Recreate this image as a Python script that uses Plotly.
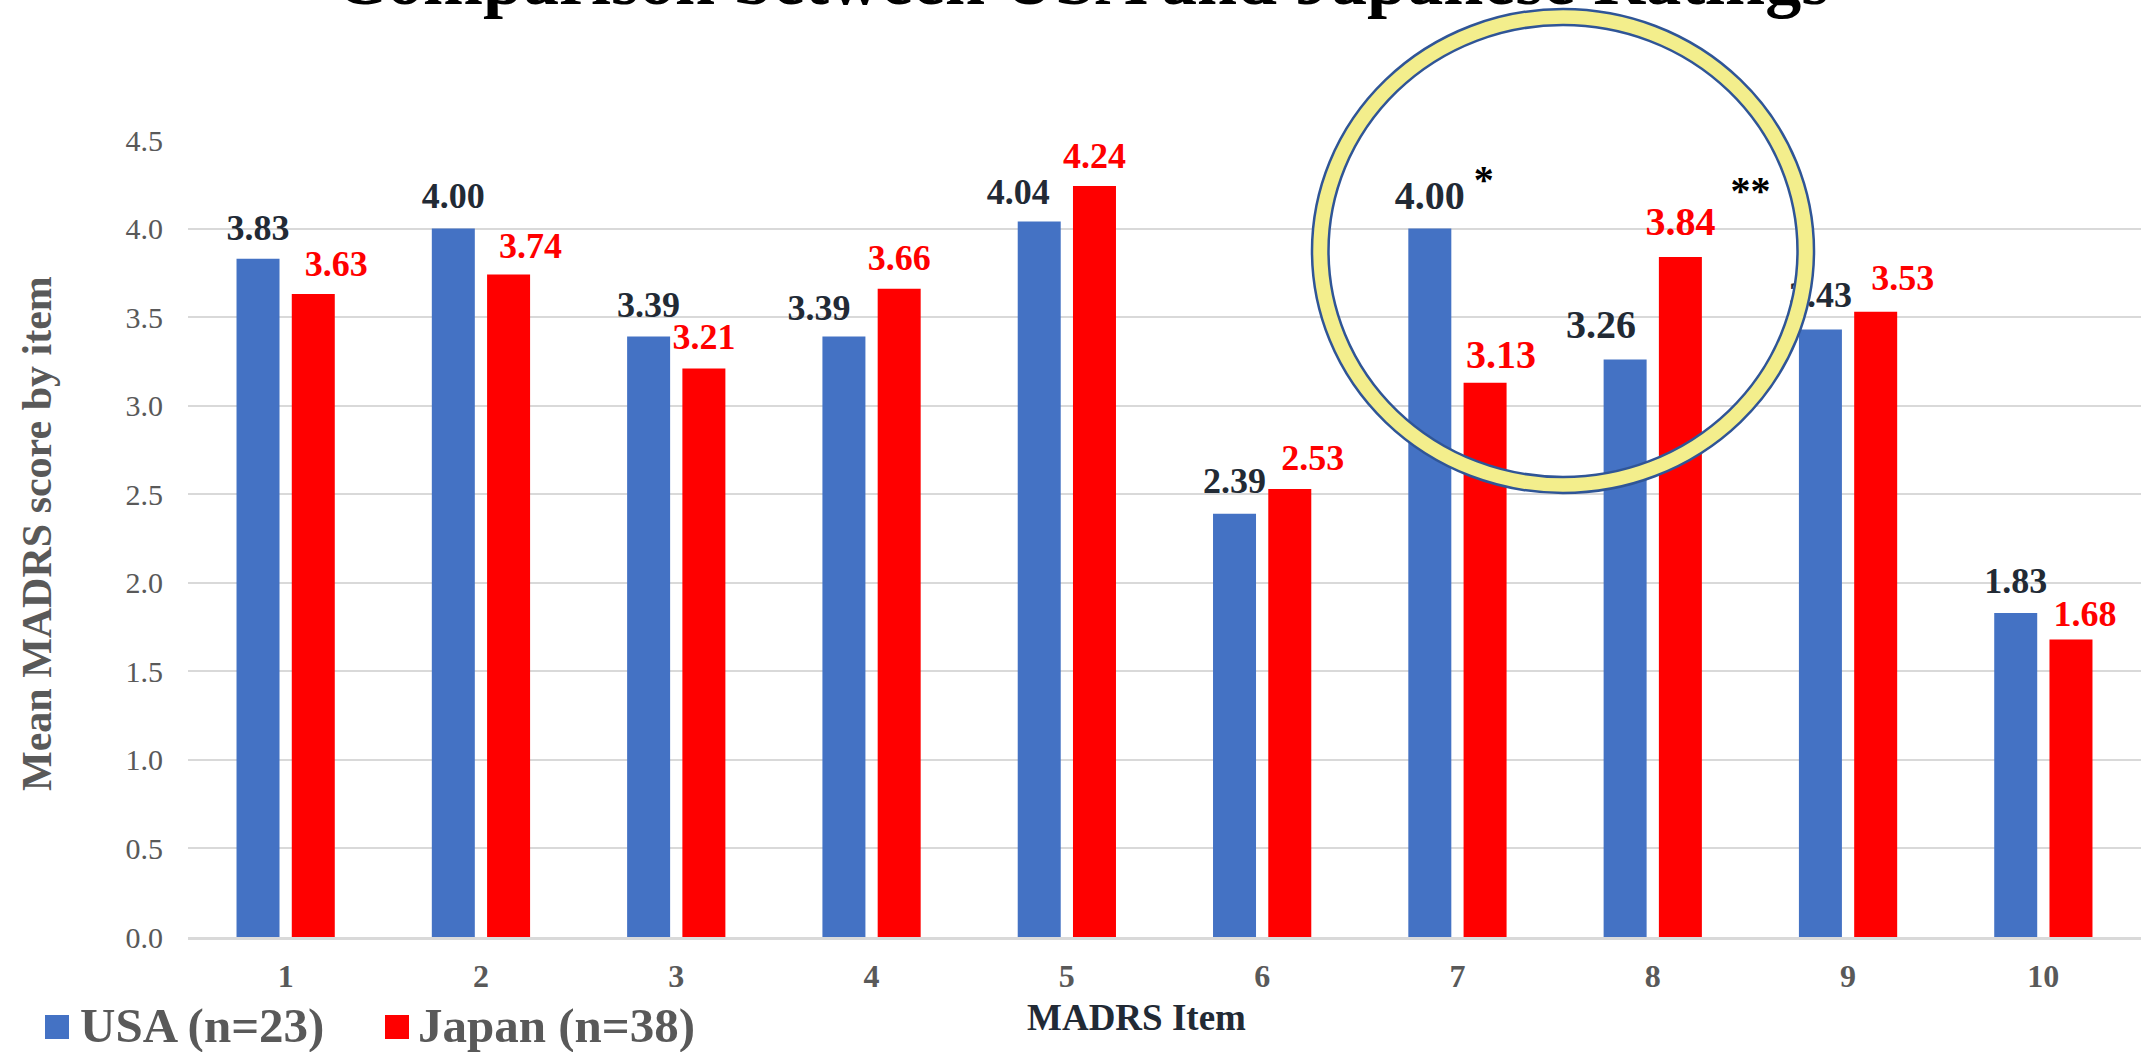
import plotly.graph_objects as go

# ---- data -------------------------------------------------------------
items = ["1", "2", "3", "4", "5", "6", "7", "8", "9", "10"]
usa = [3.83, 4.00, 3.39, 3.39, 4.04, 2.39, 4.00, 3.26, 3.43, 1.83]
japan = [3.63, 3.74, 3.21, 3.66, 4.24, 2.53, 3.13, 3.84, 3.53, 1.68]
y_ticks = [0.0, 0.5, 1.0, 1.5, 2.0, 2.5, 3.0, 3.5, 4.0, 4.5]

series_names = ["USA (n=23)", "Japan (n=38)"]
title_text = "Comparison between USA and Japanese Ratings"
y_title = "Mean MADRS score by item"
x_title = "MADRS Item"

# ---- label styling (pixel nudges / lifts / font sizes) ----------------
usa_label_shift = [0, 0, 0, -25, -21, 0, 0, -24, 0, 0]
japan_label_shift = [23, 22, 0, 0, 0, 23, 16, 0, 27, 14]
usa_label_lift = [19, 21, 20, 17, 17, 21, 20, 22, 23, 20]
japan_label_lift = [18, 17, 19, 19, 18, 19, 15, 22, 22, 13]
usa_label_size = [36, 36, 36, 36, 36, 36, 40, 40, 36, 36]
japan_label_size = [36, 36, 36, 36, 36, 36, 40, 40, 36, 36]

# ---- layout constants -------------------------------------------------
W, H = 2141, 1052
ML, MR, MT, MB = 188, 0, 140, 115
PW, PH = W - ML - MR, H - MT - MB
YMAX = 4.5
BARGAP, GROUPGAP = 0.434, 0.222
SERIF = "Times New Roman, Liberation Serif, serif"
BLUE, RED = "#4472C4", "#FF0000"
NAVY, GREY = "#222A35", "#595959"

slot = (1 - BARGAP) / 2          # width of one bar slot in category units
px_x = PW / len(items)           # pixels per category unit
px_y = PH / YMAX                 # pixels per score unit
pos = list(range(1, len(items) + 1))


def paper_x(px):
    return (px - ML) / PW


def paper_y(py):
    return (MT + PH - py) / PH


def label_points(values, side, shifts, lifts, sizes):
    xs, ys = [], []
    for p, v, s, l, f in zip(pos, values, shifts, lifts, sizes):
        xs.append(p + side * slot / 2 + s / px_x)
        # text is centred 0.25em above its baseline
        ys.append(v + (l + 0.25 * f) / px_y)
    return xs, ys


fig = go.Figure()

fig.add_trace(go.Bar(x=pos, y=usa, name=series_names[0],
                     marker=dict(color=BLUE, line=dict(width=0)),
                     hoverinfo="skip"))
fig.add_trace(go.Bar(x=pos, y=japan, name=series_names[1],
                     marker=dict(color=RED, line=dict(width=0)),
                     hoverinfo="skip"))

ux, uy = label_points(usa, -1, usa_label_shift, usa_label_lift, usa_label_size)
fig.add_trace(go.Scatter(
    x=ux, y=uy, mode="text", text=[f"{v:.2f}" for v in usa],
    textposition="middle center", hoverinfo="skip",
    textfont=dict(family=SERIF, size=usa_label_size, color=NAVY, weight="bold")))

jx, jy = label_points(japan, 1, japan_label_shift, japan_label_lift, japan_label_size)
fig.add_trace(go.Scatter(
    x=jx, y=jy, mode="text", text=[f"{v:.2f}" for v in japan],
    textposition="middle center", hoverinfo="skip",
    textfont=dict(family=SERIF, size=japan_label_size, color=RED, weight="bold")))

# significance markers next to items 7 and 8
star_x = [7 - slot / 2 + 54 / px_x, 8 + slot / 2 + 70 / px_x]
star_y = [usa[6] + (36 + 10) / px_y, japan[7] + (53 + 10) / px_y]
fig.add_trace(go.Scatter(
    x=star_x, y=star_y, mode="text", text=["*", "**"],
    textposition="middle center", hoverinfo="skip",
    textfont=dict(family=SERIF, size=40, color="#000000", weight="bold")))

# highlight ring around items 7-8
cx, cy = paper_x(1563), paper_y(251)
ring = [
    (242.75, 234.0, 17, "#F3EE8C"),
    (251.0, 242.0, 2.5, "#2F5597"),
    (234.5, 226.0, 2.5, "#2F5597"),
]
shapes = []
for rx, ry, w, c in ring:
    shapes.append(dict(type="circle", xref="paper", yref="paper",
                       xsizemode="pixel", ysizemode="pixel",
                       xanchor=cx, yanchor=cy,
                       x0=-rx, x1=rx, y0=-ry, y1=ry,
                       line=dict(color=c, width=w), layer="above"))

# legend swatches
for x0, col in [(45, BLUE), (385, RED)]:
    shapes.append(dict(type="rect", xref="paper", yref="paper",
                       x0=paper_x(x0), x1=paper_x(x0 + 24),
                       y0=paper_y(1015), y1=paper_y(1039),
                       line=dict(width=0), fillcolor=col))

annotations = [
    dict(text=title_text, xref="paper", yref="paper",
         x=paper_x(1082), y=paper_y(22), xanchor="center", yanchor="bottom",
         showarrow=False,
         font=dict(family=SERIF, size=72, color="#000000", weight="bold")),
    dict(text=y_title, xref="paper", yref="paper", textangle=-90,
         x=paper_x(37), y=paper_y(534), xanchor="center", yanchor="middle",
         showarrow=False,
         font=dict(family=SERIF, size=42, color=GREY, weight="bold")),
    dict(text=x_title, xref="paper", yref="paper",
         x=paper_x(1136), y=paper_y(1017.5), xanchor="center", yanchor="middle",
         showarrow=False,
         font=dict(family=SERIF, size=37, color=NAVY, weight="bold")),
    dict(text=series_names[0], xref="paper", yref="paper",
         x=paper_x(78), y=paper_y(1025), xanchor="left", yanchor="middle",
         showarrow=False,
         font=dict(family=SERIF, size=49, color=GREY, weight="bold")),
    dict(text=series_names[1], xref="paper", yref="paper",
         x=paper_x(416), y=paper_y(1025), xanchor="left", yanchor="middle",
         showarrow=False,
         font=dict(family=SERIF, size=49, color=GREY, weight="bold")),
]

fig.update_layout(
    width=W, height=H,
    margin=dict(l=ML, r=MR, t=MT, b=MB, autoexpand=False),
    paper_bgcolor="white", plot_bgcolor="white",
    barmode="group", bargap=BARGAP, bargroupgap=GROUPGAP,
    showlegend=False,
    shapes=shapes, annotations=annotations,
    xaxis=dict(range=[0.5, len(items) + 0.5], tickvals=pos, ticktext=items,
               showgrid=False, zeroline=False,
               showline=True, linecolor="#D9D9D9", linewidth=2.5,
               ticks="", ticklabelstandoff=9,
               tickfont=dict(family=SERIF, size=32, color=GREY, weight="bold")),
    yaxis=dict(range=[0, YMAX], tickvals=y_ticks, tickformat=".1f",
               showgrid=True, gridcolor="#D9D9D9", gridwidth=1.6,
               zeroline=False, showline=False,
               ticks="", ticklabelstandoff=24,
               tickfont=dict(family=SERIF, size=30, color=GREY)),
)

fig.write_html("out.html")
